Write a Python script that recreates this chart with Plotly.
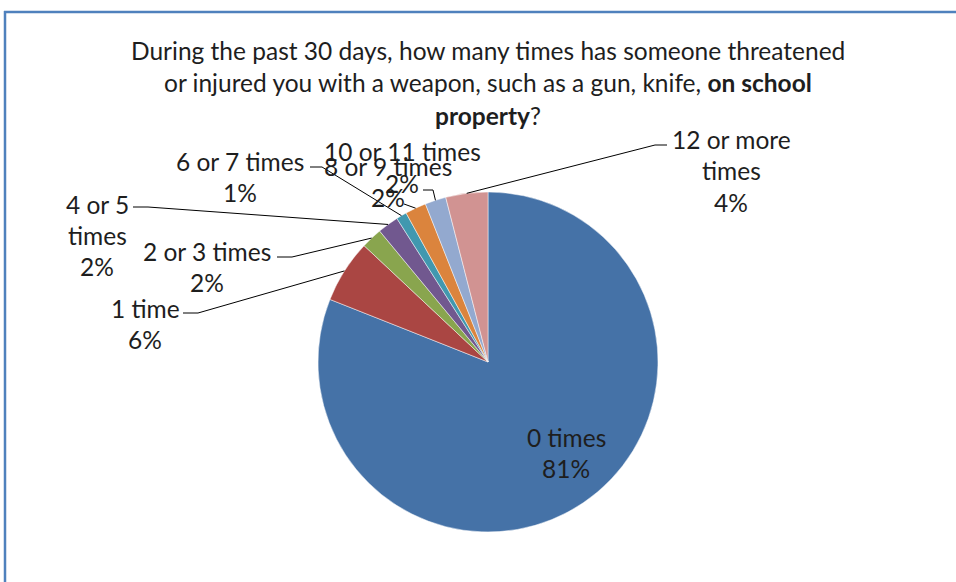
import math
import plotly.graph_objects as go

# ---- data ----
categories = ["0 times", "1 time", "2 or 3 times", "4 or 5 times", "6 or 7 times",
              "8 or 9 times", "10 or 11 times", "12 or more times"]
percents = [81, 6, 2, 2, 1, 2, 2, 4]
colors = ["#4572A7", "#AA4643", "#89A54E", "#71588F", "#4198AF", "#DB843D", "#93A9CF", "#D19392"]
title_lines = ["During the past 30 days, how many times has someone threatened",
               "or injured you with a weapon, such as a gun, knife, <b>on school</b>",
               "<b>property</b>?"]

W, H = 956, 582
CX, CY, R = 488, 362, 170
FONT = "Lato"
FS = 24.5
TXT = "#1e1e1e"

def px(x):
    return x / W

def py(y):
    return 1 - y / H

fig = go.Figure(go.Pie(
    labels=categories, values=percents, sort=False, direction="clockwise", rotation=0,
    marker=dict(colors=colors, line=dict(color="rgba(255,255,255,0.6)", width=0.8)),
    textinfo="none", hoverinfo="label+percent", showlegend=False,
    domain=dict(x=[px(CX - R), px(CX + R)], y=[py(CY + R), py(CY - R)]),
))

annotations = []
shapes = []

def text(s, x, y, size=FS):
    annotations.append(dict(text=s, x=px(x), y=py(y), xref="paper", yref="paper",
                            showarrow=False, xanchor="center", yanchor="middle",
                            font=dict(family=FONT, size=size, color=TXT)))

def seg(x0, y0, x1, y1):
    shapes.append(dict(type="line", xref="paper", yref="paper", x0=px(x0), y0=py(y0),
                       x1=px(x1), y1=py(y1), line=dict(color="#000", width=1)))

# title
for i, t in enumerate(title_lines):
    text(t, 488, 50 + i * 33)

# slice edge points from data
total = sum(percents)
cum = 0
edge = []
for v in percents:
    mid = (cum + v / 2) / total * 2 * math.pi
    edge.append((CX + R * math.sin(mid), CY - R * math.cos(mid)))
    cum += v

# label layout: (lines, center x, first line y, leader polyline start points)
labels = [
    (["0 times", f"{percents[0]}%"], 566, 437, None),
    (["1 time", f"{percents[1]}%"], 145, 308, [(183, 313), (198, 313)]),
    (["2 or 3 times", f"{percents[2]}%"], 207, 251, [(277, 257), (292, 257)]),
    (["4 or 5", "times", f"{percents[3]}%"], 97, 204, [(133, 207), (148, 207)]),
    (["6 or 7 times", f"{percents[4]}%"], 240, 161, [(310, 167), (322, 167)]),
    (["8 or 9 times", f"{percents[5]}%"], 388, 166, [(404, 204)]),
    (["10 or 11 times", f"{percents[6]}%"], 402, 152, [(423, 190), (433, 190)]),
    (["12 or more", "times", f"{percents[7]}%"], 731, 139, [(667, 145), (655, 145)]),
]
for i, (lines, x, y, lead) in enumerate(labels):
    for j, s in enumerate(lines):
        text(s, x, y + j * 31.5)
    if lead:
        pts = lead + [edge[i]]
        for a, b in zip(pts[:-1], pts[1:]):
            seg(a[0], a[1], b[0], b[1])

# chart-area border (top and left visible)
shapes.append(dict(type="line", xref="paper", yref="paper", x0=px(4), y0=py(12), x1=px(W + 2), y1=py(12),
                   line=dict(color="#4F81BD", width=2.5)))
shapes.append(dict(type="line", xref="paper", yref="paper", x0=px(5), y0=py(11), x1=px(5), y1=py(H + 2),
                   line=dict(color="#4F81BD", width=2.5)))

fig.update_layout(width=W, height=H, margin=dict(l=0, r=0, t=0, b=0),
                  paper_bgcolor="white", plot_bgcolor="white",
                  annotations=annotations, shapes=shapes)
fig.write_html("out.html", config={"displayModeBar": False},
               post_script="document.body.style.margin='0';")
